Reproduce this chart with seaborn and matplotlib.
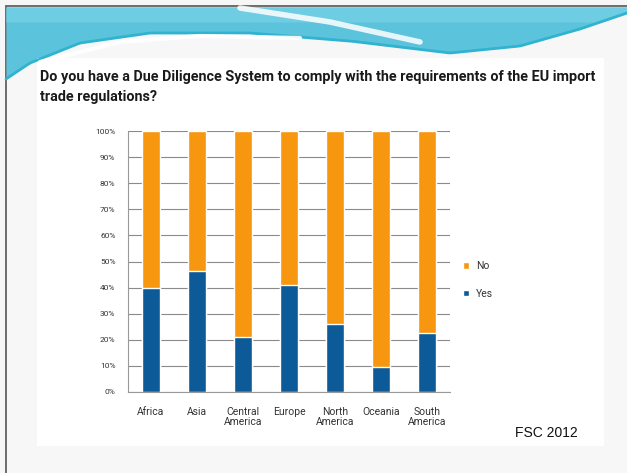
import matplotlib
matplotlib.use("Agg")
import matplotlib.pyplot as plt
import seaborn as sns
import numpy as np
import pandas as pd

regions = ["Africa", "Asia", "Central\nAmerica", "Europe", "North\nAmerica", "Oceania", "South\nAmerica"]
yes_pct = [40, 46.5, 21, 41, 26, 9.7, 22.5]
no_pct = [60, 53.5, 79, 59, 74, 90.3, 77.5]
y_ticks = [0, 10, 20, 30, 40, 50, 60, 70, 80, 90, 100]
y_tick_labels = ["0%", "10%", "20%", "30%", "40%", "50%", "60%", "70%", "80%", "90%", "100%"]

sns.set_theme(style="white")
plt.rcParams['font.family'] = ['Roboto', 'Liberation Sans', 'DejaVu Sans']

W, H = 627, 473
fig = plt.figure(figsize=(W / 100, H / 100), dpi=100)
fig.patch.set_facecolor("#f6f6f6")

# background / decoration axes in pixel coordinates
bg = fig.add_axes([0, 0, 1, 1])
bg.set_xlim(0, W)
bg.set_ylim(H, 0)
bg.axis("off")
bg.add_patch(plt.Rectangle((6, 6), W, H, facecolor="#f7f7f7", edgecolor="#555555", lw=1.2))
xs = np.linspace(6, W, 200)
px = [6, 30, 80, 150, 250, 350, 450, 520, 580, 627]
py = [78, 62, 42, 32, 32, 40, 52, 45, 28, 12]
curve = np.interp(xs, px, py)
bg.fill_between(xs, 7, curve, color="#5cc3dc", lw=0)
bg.fill_between(xs, 7, np.minimum(curve, 22 + 0 * xs), color="#6fcde3", lw=0)
bg.plot(xs, curve + 1, color="#2fb3d0", lw=2)
bg.plot([240, 330, 420], [8, 22, 42], color="white", lw=4, alpha=0.85, solid_capstyle="round")
bg.plot([40, 120, 200, 300], [62, 42, 36, 38], color="white", lw=3, alpha=0.9)
bg.add_patch(plt.Rectangle((37, 58), 567, 388, facecolor="white", edgecolor="none"))

t1 = fig.text(40 / W, 1 - 77 / H, "Do you have a Due Diligence System to comply with the requirements of the EU import",
              fontsize=10.5, fontweight="bold", color="#1a1a1a", va="center", ha="left")
t2 = fig.text(40 / W, 1 - 97 / H, "trade regulations?",
              fontsize=10.5, fontweight="bold", color="#1a1a1a", va="center", ha="left")
# fit title line to the reference width (about 558 px)
r = fig.canvas.get_renderer()
w = t1.get_window_extent(renderer=r).width
fs = 10.5 * 558 / w
t1.set_fontsize(fs)
t2.set_fontsize(fs)

ax = fig.add_axes([128 / W, 1 - 392 / H, (450 - 128) / W, (392 - 131) / H])
ax.set_facecolor("white")
df = pd.DataFrame({"region": regions, "total": [y + n for y, n in zip(yes_pct, no_pct)], "yes": yes_pct})
orange = "#f7960f"
blue = "#0d5a98"
sns.barplot(data=df, x="region", y="total", color=orange, width=0.4, ax=ax, saturation=1, label="No")
sns.barplot(data=df, x="region", y="yes", color=blue, width=0.4, ax=ax, saturation=1, label="Yes")
ax.set_ylim(0, 100)
ax.set_xlim(-0.5, len(regions) - 0.5)
ax.set_yticks(y_ticks)
ax.set_yticklabels(y_tick_labels, fontsize=6, color="#333333")
ax.set_xlabel("")
ax.set_ylabel("")
ax.tick_params(axis="x", labelsize=7.5, colors="#333333", length=0, pad=11)
ax.tick_params(axis="y", length=3, color="#888888", direction="out", pad=6)
ax.set_xticks(np.arange(-0.5, len(regions), 1), minor=True)
ax.tick_params(axis="x", which="minor", length=3, color="#888888", direction="out")
for lab in ax.get_xticklabels():
    lab.set_color("#333333")
    lab.set_linespacing(1.0)
ax.yaxis.grid(True, color="#8a8a8a", lw=0.8)
ax.set_axisbelow(True)
for s in ["top", "right"]:
    ax.spines[s].set_visible(False)
ax.spines["left"].set_color("#999999")
ax.spines["bottom"].set_color("#999999")
ax.spines["left"].set_linewidth(0.8)
ax.spines["bottom"].set_linewidth(0.8)

handles, labels = ax.get_legend_handles_labels()
leg = ax.legend(handles, labels, loc="center left", bbox_to_anchor=(1.01, 0.43), frameon=False,
                fontsize=7.5, handlelength=0.6, handleheight=0.6, labelspacing=1.7, handletextpad=0.7)
for t in leg.get_texts():
    t.set_color("#333333")

fig.text(515 / W, 1 - 433 / H, "FSC 2012", fontsize=10, family=["Liberation Sans", "DejaVu Sans"],
         color="#111111", va="center", ha="left")

fig.savefig("out.png", dpi=100, facecolor=fig.get_facecolor())
